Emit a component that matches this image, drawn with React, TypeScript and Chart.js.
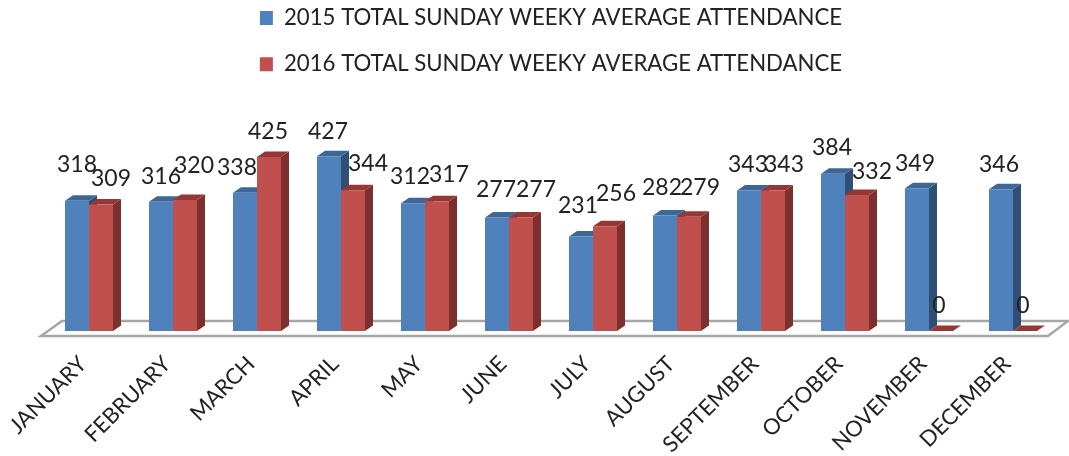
import React, { useEffect, useRef } from "react";
import { Chart, registerables } from "chart.js";

Chart.register(...registerables);

const months = ["JANUARY","FEBRUARY","MARCH","APRIL","MAY","JUNE","JULY","AUGUST","SEPTEMBER","OCTOBER","NOVEMBER","DECEMBER"];
const attendance2015 = [318,316,338,427,312,277,231,282,343,384,349,346];
const attendance2016 = [309,320,425,344,317,277,256,279,343,332,0,0];
const label2015 = "2015 TOTAL SUNDAY WEEKY AVERAGE ATTENDANCE";
const label2016 = "2016 TOTAL SUNDAY WEEKY AVERAGE ATTENDANCE";

const FONT = "Lato, 'Noto Sans', sans-serif";
const BLUE = "#4F81BD", BLUE_TOP = "#3E6796", BLUE_SIDE = "#2F4F77";
const RED = "#C0504D", RED_TOP = "#953735", RED_SIDE = "#7D2F2D";

// Hand placement of the value labels, relative to each bar's top centre.
const nudge2015 = [[0,-36],[0,-25],[-8,-25],[-1,-25],[-3,-27],[-1,-28],[-3,-31],[-3,-28],[-1,-26],[-1,-26],[-2,-25],[-2,-25]];
const nudge2016 = [[10,-26],[9,-34],[-1,-25],[15,-27],[12,-27],[15,-28],[11,-33],[11,-29],[11,-26],[15,-24],[-2,-25],[-2,-25]];

const DEPTH_X = 8, DEPTH_Y = 5.5;

const poly = (ctx: CanvasRenderingContext2D, pts: number[][], fill: string) => {
  ctx.beginPath();
  pts.forEach(([x, y], i) => (i ? ctx.lineTo(x, y) : ctx.moveTo(x, y)));
  ctx.closePath();
  ctx.fillStyle = fill;
  ctx.fill();
};

const bars3d = {
  id: "bars3d",
  beforeDatasetsDraw(chart: any) {
    const ctx = chart.ctx;
    const xs = chart.scales.x, ys = chart.scales.y;
    const y0 = ys.getPixelForValue(0);
    ctx.save();
    ctx.beginPath();
    ctx.moveTo(xs.left - 6, y0 + 5);
    ctx.lineTo(xs.left + 15, y0 - 10);
    ctx.lineTo(xs.right + 13, y0 - 10);
    ctx.lineTo(xs.right - 7, y0 + 5);
    ctx.closePath();
    ctx.fillStyle = "#fff";
    ctx.fill();
    ctx.strokeStyle = "#A6A6A6";
    ctx.lineWidth = 2.5;
    ctx.stroke();
    [[BLUE_TOP, BLUE_SIDE], [RED_TOP, RED_SIDE]].forEach(([top, side], d) => {
      chart.getDatasetMeta(d).data.forEach((el: any) => {
        const { x, y, base, width } = el.getProps(["x", "y", "base", "width"], true);
        const l = x - width / 2, r = x + width / 2;
        poly(ctx, [[r, y], [r + DEPTH_X, y - DEPTH_Y], [r + DEPTH_X, base - DEPTH_Y], [r, base]], side);
        poly(ctx, [[l, y], [l + DEPTH_X, y - DEPTH_Y], [r + DEPTH_X, y - DEPTH_Y], [r, y]], top);
      });
    });
    ctx.restore();
  },
  afterDatasetsDraw(chart: any) {
    const ctx = chart.ctx;
    ctx.save();
    ctx.font = `23px ${FONT}`;
    ctx.fillStyle = "#222";
    ctx.textAlign = "center";
    ctx.textBaseline = "middle";
    [nudge2015, nudge2016].forEach((nudge, d) => {
      const values = chart.data.datasets[d].data;
      chart.getDatasetMeta(d).data.forEach((el: any, i: number) => {
        const { x, y } = el.getProps(["x", "y"], true);
        ctx.fillText(String(values[i]), x + nudge[i][0], y + nudge[i][1]);
      });
    });
    ctx.restore();
  },
};

export default function App() {
  const ref = useRef<HTMLCanvasElement>(null);
  useEffect(() => {
    document.body.style.margin = "0";
    const chart = new Chart(ref.current!, {
      type: "bar",
      data: {
        labels: months,
        datasets: [
          { label: label2015, data: attendance2015, backgroundColor: BLUE, borderWidth: 0, categoryPercentage: 0.5714, barPercentage: 1 },
          { label: label2016, data: attendance2016, backgroundColor: RED, borderWidth: 0, categoryPercentage: 0.5714, barPercentage: 1 },
        ],
      },
      options: {
        responsive: false,
        animation: false,
        layout: { autoPadding: false, padding: { left: 47, right: 14, top: -17, bottom: 0 } },
        plugins: {
          tooltip: { enabled: false },
          legend: {
            position: "top",
            labels: { boxWidth: 13, boxHeight: 14, padding: 24, color: "#222", font: { family: FONT, size: 22.2 } },
          },
        },
        scales: {
          x: {
            grid: { display: false },
            border: { display: false },
            ticks: { minRotation: 45, maxRotation: 45, autoSkip: false, color: "#222", padding: 12, labelOffset: -6, font: { family: FONT, size: 22 } },
            afterFit: (s: any) => { s.height = 125; },
          },
          y: { display: false, min: 0, max: 600 },
        },
      },
      plugins: [bars3d],
    } as any);
    return () => chart.destroy();
  }, []);
  return <canvas ref={ref} width={1069} height={456} style={{ display: "block", filter: "blur(0.4px)" }} />;
}
